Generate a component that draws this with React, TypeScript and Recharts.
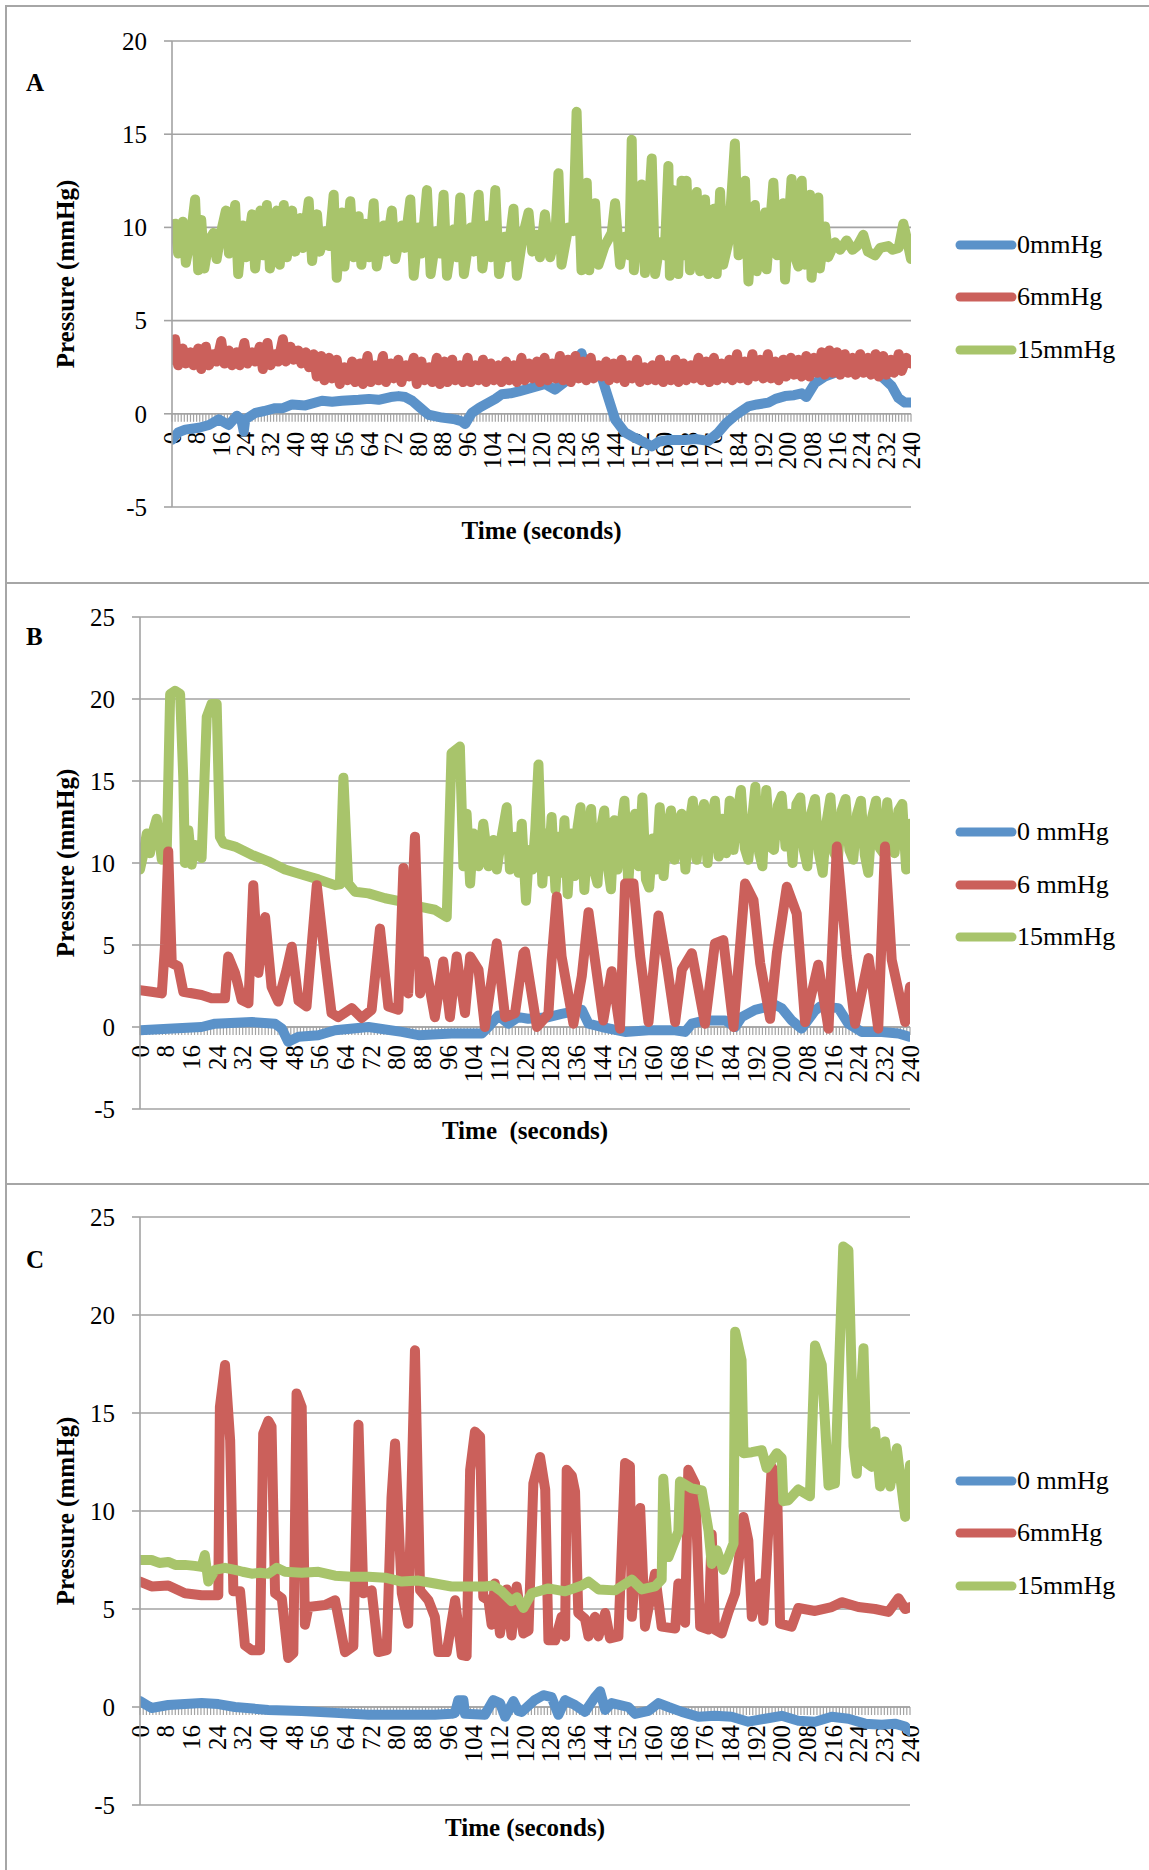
import React from "react";
import { LineChart, Line, XAxis, YAxis, CartesianGrid, ReferenceLine } from "recharts";

const BLUE = "#5b92c9";
const RED = "#cb605b";
const GREEN = "#a8c46b";
const GRID = "#a3a3a3";
const FONT = "'Liberation Serif', 'Times New Roman', serif";

// x axis labels (seconds)
const timeLabels = [0, 8, 16, 24, 32, 40, 48, 56, 64, 72, 80, 88, 96, 104, 112, 120, 128, 136, 144, 152, 160, 168, 176, 184, 192, 200, 208, 216, 224, 232, 240];
const ticksA = [-5, 0, 5, 10, 15, 20];
const ticksBC = [-5, 0, 5, 10, 15, 20, 25];

// ---- Panel A : [time, pressure]
const a0mm: [number, number][] = [
  [0, -1.4], [2, -1.0], [4.3, -0.85], [8.7, -0.75], [12, -0.6], [15.2, -0.3], [18.4, -0.6], [21.1, -0.1], [22.5, -0.3], [23.3, -0.95], [23.8, -0.3],
  [27.1, 0.05], [30, 0.15], [33.5, 0.3], [36, 0.3], [39, 0.5], [43.3, 0.45], [48.7, 0.7], [52, 0.65], [55.2, 0.7], [60.6, 0.75], [64, 0.8],
  [67.1, 0.75], [71, 0.9], [73.6, 0.95], [75.8, 0.9], [78, 0.7], [80.1, 0.4], [83.3, -0.05], [87.7, -0.2], [92, -0.3], [94, -0.4], [95.2, -0.55],
  [97.4, 0.05], [100, 0.35], [102.8, 0.6], [105, 0.8], [107.1, 1.05], [110, 1.1], [112.6, 1.2], [116.9, 1.4], [121.2, 1.6], [122.2, 1.5],
  [124.4, 1.3], [128.7, 1.85], [132, 2.0], [133, 3.25], [134.1, 2.55], [137, 2.3], [139.5, 2.0], [141.2, 1.1], [143.9, -0.3], [147.1, -1.0],
  [150.4, -1.3], [153, -1.5], [155.8, -1.75], [158, -1.5], [161.2, -1.4], [166.6, -1.4], [170, -1.35], [174.2, -1.45], [177.4, -1.0], [180, -0.5],
  [182.8, -0.1], [187.2, 0.4], [190, 0.5], [193.7, 0.6], [196, 0.8], [199.1, 0.95], [202, 1.0], [204.5, 1.1], [206, 0.9], [208.8, 1.65],
  [212, 2.0], [215.3, 2.2], [220, 2.5], [226.1, 2.8], [230.5, 2.0], [233.7, 1.5], [235.9, 0.85], [238, 0.6], [240, 0.6],
];
const a6mm: [number, number][] = [
  [0, 2.9], [1, 4.0], [2, 2.6], [3.5, 3.5], [4.5, 2.7], [6, 3.3], [7, 2.6], [8.5, 3.5], [9.5, 2.4], [11, 3.6], [12, 2.6], [13.5, 3.2], [14.5, 2.8],
  [16, 3.9], [17, 2.7], [18.5, 3.4], [19.5, 2.6], [21, 3.3], [22, 2.6], [23.5, 3.8], [24.5, 2.7], [26, 3.3], [27, 2.8], [28.5, 3.6], [29.5, 2.4],
  [31, 3.8], [32, 2.6], [33.5, 3.2], [34.5, 2.8], [36, 4.0], [37, 2.8], [38.5, 3.6], [39.5, 2.9], [41, 3.4], [42, 2.7], [43.5, 3.3], [44.5, 2.5],
  [46, 3.2], [47, 2.0], [48.5, 3.1], [49.5, 1.8], [51, 3.0], [52, 1.9], [53.5, 2.9], [54.5, 1.6], [56, 2.5], [57, 1.8], [58.5, 2.8], [59.5, 1.7],
  [61, 2.7], [62, 1.6], [63.5, 3.1], [64.5, 1.7], [66, 2.6], [67, 1.8], [68.5, 3.1], [69.5, 1.7], [71, 2.7], [72, 1.9], [73.5, 2.9], [74.5, 1.7],
  [76, 2.6], [77, 2.0], [78.5, 3.0], [79.5, 1.6], [81, 2.8], [82, 1.8], [83.5, 2.5], [84.5, 1.7], [86, 3.0], [87, 1.6], [88.5, 2.8], [89.5, 1.7],
  [91, 2.9], [92, 1.8], [93.5, 2.6], [94.5, 1.7], [96, 3.0], [97, 1.7], [98.5, 2.6], [99.5, 1.8], [101, 2.9], [102, 1.7], [103.5, 2.7], [104.5, 1.8],
  [106, 2.6], [107, 1.7], [108.5, 2.8], [109.5, 1.8], [111, 2.6], [112, 1.7], [113.5, 3.0], [114.5, 1.8], [116, 2.7], [117, 1.9], [118.5, 2.8],
  [119.5, 1.7], [121, 3.0], [122, 1.8], [123.5, 2.7], [124.5, 1.9], [126, 3.1], [127, 1.8], [128.5, 2.9], [129.5, 1.7], [131, 3.1], [132, 1.9],
  [133.5, 2.8], [134.5, 1.8], [136, 3.0], [137, 1.9], [138.5, 2.6], [139.5, 2.0], [141, 2.8], [142, 1.8], [143.5, 2.7], [144.5, 1.9], [146, 2.9],
  [147, 1.7], [148.5, 2.6], [149.5, 1.9], [151, 2.9], [152, 1.7], [153.5, 2.5], [154.5, 1.8], [156, 2.6], [157, 1.8], [158.5, 2.9], [159.5, 1.7],
  [161, 2.6], [162, 1.8], [163.5, 2.9], [164.5, 1.7], [166, 2.7], [167, 1.8], [168.5, 2.6], [169.5, 1.9], [171, 3.0], [172, 1.8], [173.5, 2.8],
  [174.5, 1.7], [176, 3.0], [177, 1.8], [178.5, 2.7], [179.5, 1.9], [181, 2.9], [182, 1.8], [183.5, 3.2], [184.5, 1.9], [186, 2.8], [187, 1.8],
  [188.5, 3.2], [189.5, 2.0], [191, 2.9], [192, 1.9], [193.5, 3.2], [194.5, 1.9], [196, 2.8], [197, 1.8], [198.5, 2.9], [199.5, 2.0], [201, 3.0],
  [202, 2.1], [203.5, 2.9], [204.5, 2.0], [206, 3.1], [207, 2.0], [208.5, 3.0], [209.5, 2.2], [211, 3.3], [212, 2.1], [213.5, 3.4], [214.5, 2.2],
  [216, 3.3], [217, 2.1], [218.5, 3.2], [219.5, 2.2], [221, 3.0], [222, 2.1], [223.5, 3.2], [224.5, 2.2], [226, 3.0], [227, 2.1], [228.5, 3.2],
  [229.5, 2.0], [231, 3.1], [232, 2.1], [233.5, 2.9], [234.5, 2.2], [236, 3.2], [237, 2.3], [238.5, 3.0], [240, 2.7],
];
const a15mm: [number, number][] = [
  [0, 9.6], [1, 10.2], [2, 8.6], [3.5, 10.3], [4.5, 8.1], [6, 9.4], [7.5, 11.5], [8.5, 7.7], [9.5, 10.4], [10.5, 7.8], [12, 9.3], [13.5, 9.7],
  [14.5, 8.3], [16, 9.8], [17.5, 10.9], [18.5, 8.6], [20.5, 11.2], [21.5, 7.5], [23, 10.1], [24, 8.4], [26, 10.7], [27, 7.8], [28.7, 10.9],
  [29.5, 8.5], [30.8, 11.2], [31.8, 7.8], [34, 10.9], [35, 8.0], [36.3, 11.2], [37.3, 8.4], [39, 10.9], [40, 8.7], [41.7, 10.5], [42.5, 8.9],
  [44.4, 11.4], [45.5, 8.2], [47.1, 10.7], [48, 8.7], [50, 9.8], [51, 9.0], [52.5, 11.75], [53.5, 7.3], [55.2, 10.8], [56, 7.9], [57.9, 11.4],
  [59, 8.4], [60.6, 10.6], [61.5, 8.0], [62.8, 10.2], [64, 8.4], [65.5, 11.3], [66.5, 7.9], [68.7, 10.1], [69.5, 8.7], [71.4, 10.9], [72.5, 8.3],
  [74.7, 10.1], [75.5, 8.9], [77.4, 11.5], [78.5, 7.4], [80, 10.0], [81, 8.6], [82.8, 12.0], [84, 7.5], [86, 9.8], [87, 8.6], [88.2, 11.75],
  [89.3, 7.4], [91.5, 9.9], [92.5, 8.4], [93.6, 11.6], [94.8, 7.5], [97, 10.0], [98, 8.7], [99.6, 11.75], [100.8, 7.8], [102.5, 10.1],
  [103.5, 8.4], [105, 12.0], [106.2, 7.5], [108, 9.5], [109, 8.4], [110.9, 11.0], [112, 7.4], [114, 9.6], [115.8, 10.8], [117, 8.7],
  [118.5, 9.6], [119.5, 8.4], [121.1, 10.7], [122.8, 8.4], [124.5, 9.5], [125.5, 12.9], [126.5, 8.0], [128.7, 10.0], [130.3, 9.8], [131.4, 16.2],
  [132.2, 11.5], [133, 7.7], [134.7, 12.4], [135.5, 7.7], [137.4, 11.3], [138.5, 8.0], [140.5, 9.0], [142.8, 9.7], [143.9, 11.3], [145.5, 8.0],
  [147, 9.5], [148.5, 8.5], [149.3, 14.7], [150, 7.7], [151.5, 11.0], [152.5, 12.3], [153.6, 7.55], [155.8, 13.7], [156.9, 7.5], [158.5, 9.2],
  [160, 8.5], [161.2, 13.3], [161.7, 7.4], [163, 12.0], [164.4, 7.5], [165.5, 12.5], [166.5, 8.5], [167.1, 12.5], [168.2, 7.7], [170.4, 11.9],
  [171.5, 7.65], [173.1, 11.5], [174.2, 7.5], [176, 11.0], [176.9, 7.5], [178, 11.9], [179, 8.0], [180.7, 9.2], [182.8, 14.5], [184, 8.5],
  [186.1, 12.5], [187.2, 7.1], [188.5, 10.5], [189.3, 11.2], [189.9, 7.65], [192.6, 10.8], [193.1, 7.75], [195.3, 12.4], [196.5, 8.5],
  [198.5, 11.3], [199.1, 7.2], [201.2, 12.6], [202.2, 8.5], [203.4, 7.9], [204.5, 12.5], [205.5, 8.0], [207.2, 11.75], [207.7, 7.3], [209.9, 11.6],
  [210.4, 7.8], [212.1, 10.05], [213.1, 8.4], [215.3, 9.2], [217, 8.8], [219.1, 9.3], [221, 8.8], [222.5, 9.0], [224.5, 9.6], [226, 8.7],
  [228.3, 8.5], [230, 8.9], [232.6, 9.0], [234, 8.8], [236, 8.9], [237.5, 10.2], [238.5, 9.5], [240, 8.3],
];

// ---- Panel B
const b0mm: [number, number][] = [
  [0, -0.2], [8.8, -0.1], [19.2, 0.0], [23.4, 0.2], [34.8, 0.3], [42.1, 0.2], [44.2, -0.1], [46.2, -0.9], [49.4, -0.6], [55.6, -0.5], [60.8, -0.2],
  [71.2, 0.0], [81.6, -0.3], [86.8, -0.5], [97.1, -0.4], [106.5, -0.4], [108.6, 0.0], [111.7, 0.7], [114.8, 0.2], [117.9, 0.6], [121, 0.5],
  [127.3, 0.6], [131.4, 0.8], [137.7, 1.05], [139.8, 0.2], [143.9, 0.0], [151.2, -0.3], [158.5, -0.2], [166.8, -0.2], [169.9, -0.3], [172, 0.2],
  [176.1, 0.4], [182.4, 0.4], [185.5, 0.0], [187.5, 0.6], [191.7, 1.05], [198, 1.35], [200, 1.15], [203.1, 0.4], [206.2, -0.1], [210.4, 1.0],
  [212, 1.25], [217.7, 1.15], [220.8, 0.2], [225, -0.3], [231.2, -0.3], [236.4, -0.4], [240, -0.6],
];
const b6mm: [number, number][] = [
  [0, 2.25], [3.6, 2.15], [6.8, 2.05], [7.8, 5.0], [8.8, 10.7], [9.9, 3.9], [11.9, 3.7], [13.5, 2.15], [19.2, 1.95], [22.3, 1.75], [26.5, 1.75],
  [27.5, 4.3], [29.6, 3.3], [31.7, 1.65], [33.8, 1.45], [35.3, 8.65], [36.9, 3.3], [39, 6.7], [41, 2.45], [43.1, 1.55], [45.7, 3.5], [47.3, 4.9],
  [49.4, 1.6], [51.9, 1.25], [55.1, 8.65], [57.7, 4.1], [59.7, 0.85], [61.8, 0.6], [66, 1.15], [69.1, 0.55], [72.2, 1.05], [74.8, 6.0],
  [77.4, 1.25], [80.5, 1.05], [82.1, 9.7], [83.6, 2.05], [85.7, 11.6], [87.3, 2.05], [88.8, 4.0], [91.9, 0.6], [94.5, 4.0], [96.6, 0.6],
  [98.7, 4.3], [101.3, 0.85], [102.9, 4.3], [105.5, 3.5], [107.5, 0.0], [111.2, 5.1], [113.8, 0.6], [116.9, 0.85], [119.5, 4.5], [120, 4.6],
  [123.7, 0.0], [127.3, 0.8], [128.3, 4.1], [129.9, 7.95], [131.4, 4.3], [135.1, 0.2], [137.7, 3.1], [139.8, 7.0], [141.8, 4.1], [144.4, 0.4],
  [147, 3.4], [149.6, -0.1], [151.2, 8.75], [153.8, 8.75], [155.9, 4.3], [158.5, 0.3], [161.6, 6.8], [164.2, 3.8], [166.8, 0.3], [168.9, 3.5],
  [172, 4.5], [176.1, 0.2], [179.2, 5.1], [181.8, 5.3], [185, 0.0], [188.6, 8.75], [191.2, 7.75], [193.3, 3.9], [196.4, 0.5], [198.5, 4.5],
  [201.6, 8.55], [204.7, 6.9], [207.3, 0.3], [211.4, 3.8], [214.6, -0.1], [217.2, 11.0], [220.3, 4.3], [222.9, 0.2], [227.1, 4.2], [230.1, -0.1],
  [232.2, 11.0], [234.3, 4.1], [238.5, 0.3], [240, 2.45],
];
const b15mm: [number, number][] = [
  [0, 9.6], [1, 10.5], [2.1, 11.8], [3.1, 10.6], [4.2, 12.0], [5.2, 12.7], [6.8, 10.2], [8.3, 10.4], [9.4, 20.3], [10.9, 20.5], [12.5, 20.3],
  [13.5, 15.1], [14, 10.0], [15.1, 12.0], [16.1, 9.9], [17.1, 11.1], [19.2, 10.3], [20.8, 18.9], [22.3, 19.7], [23.9, 19.7], [24.9, 11.6],
  [26, 11.2], [29.6, 11.0], [34.8, 10.5], [40, 10.1], [45.2, 9.6], [50.4, 9.3], [55.6, 9.0], [60.8, 8.65], [62.3, 8.7], [63.4, 15.2], [64.9, 8.75],
  [67, 8.25], [71.2, 8.15], [76.4, 7.85], [81.6, 7.65], [86.8, 7.35], [91.9, 7.15], [95.6, 6.7], [97.1, 16.7], [99.7, 17.1], [100.8, 9.8],
  [101.8, 13.0], [102.9, 8.75], [103.9, 11.8], [105.5, 9.8], [107, 12.4], [108.6, 9.8], [110.1, 11.4], [111.2, 9.6], [112.7, 11.6], [114.3, 13.4],
  [115.3, 9.6], [116.9, 11.6], [118, 9.4], [119, 12.4], [120.3, 7.7], [121.3, 10.8], [122.3, 9.6], [123.2, 12.0], [124.2, 16.0], [125.4, 8.75],
  [126.4, 11.8], [127.3, 9.5], [128.3, 12.8], [129.5, 8.35], [130.5, 11.6], [131.4, 9.4], [132.3, 12.6], [133.3, 8.1], [134.4, 11.8], [135.4, 9.2],
  [136.4, 12.2], [137.3, 13.4], [138.5, 8.35], [139.5, 11.5], [140.6, 13.3], [141.6, 9.5], [142.6, 8.75], [143.6, 12.0], [144.7, 13.2],
  [145.8, 9.8], [146.8, 8.4], [147.8, 12.6], [148.8, 9.6], [149.9, 12.0], [151, 13.8], [152.2, 8.75], [153.3, 12.2], [154.3, 13.0], [155.4, 9.8],
  [156.6, 14.0], [157.7, 9.0], [158.7, 8.5], [159.8, 11.5], [160.9, 9.6], [162, 13.4], [163.2, 9.2], [164.3, 12.0], [165.5, 13.2], [166.6, 10.2],
  [167.7, 12.4], [168.8, 13.0], [170, 9.6], [171.1, 12.2], [172.3, 13.8], [173.5, 10.2], [174.6, 12.8], [175.8, 13.6], [176.9, 10.0], [178, 12.5],
  [179.2, 13.8], [180.4, 10.4], [181.5, 12.7], [182.7, 10.6], [183.8, 13.8], [185, 10.8], [186.1, 12.9], [187.3, 14.45], [188.5, 10.9],
  [189.6, 10.2], [190.7, 12.5], [191.8, 14.65], [193, 10.6], [194, 9.8], [195.2, 14.45], [196.4, 11.0], [197.6, 10.8], [198.8, 13.5], [200, 14.1],
  [201.2, 11.0], [202.3, 13.0], [203.4, 10.0], [204.6, 13.6], [205.8, 14.0], [206.9, 10.8], [208, 9.8], [209.2, 13.0], [210.4, 13.9],
  [211.6, 10.6], [212.8, 9.4], [214, 12.5], [215.2, 14.0], [216.4, 10.6], [217.5, 10.2], [218.7, 13.2], [219.9, 13.9], [221.1, 10.8],
  [222.3, 10.2], [223.5, 13.0], [224.7, 13.8], [225.9, 10.5], [227, 9.4], [228.2, 12.8], [229.4, 13.8], [230.6, 10.9], [231.7, 10.6],
  [232.9, 13.7], [234, 11.2], [235.2, 10.6], [236.4, 13.2], [237.6, 13.6], [238.8, 9.6], [240, 12.4],
];

// ---- Panel C
const c0mm: [number, number][] = [
  [0, 0.3], [3.6, -0.05], [8.8, 0.1], [19.2, 0.2], [24.4, 0.15], [29.6, 0.0], [40, -0.15], [50.4, -0.2], [60.8, -0.3], [71.2, -0.4], [81.6, -0.4],
  [91.9, -0.4], [97.1, -0.35], [98.2, -0.3], [99.2, 0.35], [100.8, 0.35], [101.3, -0.35], [107.5, -0.4], [110.1, 0.35], [112.2, 0.2],
  [113.8, -0.5], [116.4, 0.3], [117.9, -0.2], [119, -0.25], [123, 0.35], [125.7, 0.6], [128.3, 0.5], [130.4, -0.4], [132.5, 0.35], [135.6, 0.1],
  [138.7, -0.25], [141.8, 0.5], [143.4, 0.8], [145, -0.15], [147, 0.2], [152.2, 0.0], [154.3, -0.35], [158.5, -0.2], [161.6, 0.2], [164.7, 0.0],
  [168.9, -0.25], [174, -0.5], [179.2, -0.45], [184.4, -0.5], [189.6, -0.75], [194.8, -0.6], [200, -0.45], [205.2, -0.7], [210.4, -0.75],
  [215.6, -0.5], [220.8, -0.6], [226, -0.85], [231.2, -0.9], [235.3, -0.85], [238.5, -1.0], [240, -1.25],
];
const c6mm: [number, number][] = [
  [0, 6.4], [3.6, 6.15], [8.8, 6.2], [14, 5.8], [19.2, 5.7], [24.4, 5.7], [24.9, 15.3], [26.5, 17.45], [28.1, 13.6], [29.1, 5.9], [31.2, 5.9],
  [32.7, 3.15], [34.8, 2.9], [37.4, 2.9], [38.4, 13.95], [40, 14.6], [41, 14.3], [42.1, 5.8], [44.2, 5.55], [46.2, 2.5], [47.8, 2.75], [48.8, 16.0],
  [50.4, 15.3], [51.4, 4.2], [52.5, 5.1], [57.7, 5.2], [60.8, 5.45], [63.9, 2.8], [66.5, 3.1], [68.1, 14.4], [69.6, 5.8], [72.2, 5.95],
  [74.3, 2.8], [76.9, 2.9], [78.4, 10.7], [79.5, 13.45], [81.6, 5.8], [83.6, 4.25], [85.7, 18.2], [87.3, 5.95], [89.9, 5.45], [91.9, 4.6],
  [93, 2.8], [95.6, 2.8], [98.2, 5.45], [100.3, 2.65], [101.8, 2.6], [102.9, 12.1], [104.4, 14.05], [106, 13.8], [107, 5.6], [108.6, 5.45],
  [109.6, 4.2], [110.6, 6.3], [112.2, 3.75], [114.3, 6.0], [115.8, 3.65], [117.4, 6.15], [119.5, 3.75], [121.1, 3.9], [122.6, 11.4],
  [124.7, 12.75], [126.3, 11.1], [127.3, 3.4], [129.4, 3.4], [131.4, 4.6], [132.5, 3.6], [133, 12.1], [134.6, 11.8], [135.6, 11.0], [136.6, 4.8],
  [138.7, 4.5], [139.8, 3.6], [141.8, 4.6], [142.9, 3.6], [145, 4.8], [146.5, 3.5], [149.1, 3.6], [151.2, 12.45], [152.7, 12.3], [153.3, 4.6],
  [155.9, 10.15], [157.4, 4.1], [160.5, 6.8], [162.6, 4.1], [166.8, 4.0], [167.8, 6.3], [169.9, 4.3], [170.9, 12.1], [173, 11.4], [174.6, 4.1],
  [177.2, 3.95], [178.2, 8.8], [179.2, 3.95], [181.3, 3.75], [183.4, 4.85], [185.5, 5.8], [188.1, 9.7], [189.6, 8.5], [190.7, 4.6], [193.3, 6.3],
  [194.3, 4.4], [196.9, 12.25], [198.5, 11.7], [199.5, 4.25], [203.1, 4.1], [205.2, 5.05], [210.4, 4.9], [215.6, 5.1], [218.7, 5.35],
  [223.9, 5.1], [229.1, 5.0], [233.3, 4.85], [236.4, 5.55], [238.5, 5.0], [240, 5.1],
];
const c15mm: [number, number][] = [
  [0, 7.5], [3.6, 7.5], [6, 7.35], [8.8, 7.4], [11, 7.25], [14, 7.25], [17, 7.2], [19.2, 7.15], [20.2, 7.75], [21.3, 6.4], [23.4, 7.0],
  [26.5, 7.1], [29.6, 7.0], [32, 6.9], [34.8, 6.8], [37.4, 6.85], [40, 6.8], [42.6, 7.1], [45.2, 6.9], [50.4, 6.85], [55.6, 6.9], [60.8, 6.7],
  [66, 6.65], [71.2, 6.65], [76.4, 6.6], [81.6, 6.4], [86.8, 6.45], [91.9, 6.3], [97.1, 6.15], [102.3, 6.15], [107.5, 6.15], [110.1, 6.2],
  [112.7, 5.9], [115.8, 5.4], [117.5, 5.6], [119.5, 5.05], [122.1, 5.8], [127.3, 6.05], [132.5, 5.9], [137.7, 6.2], [139.8, 6.4], [142.9, 6.0],
  [148.1, 5.95], [153.3, 6.5], [156.4, 6.0], [160.5, 6.15], [162.6, 6.5], [163.1, 11.65], [164.7, 7.65], [167.8, 8.95], [168.3, 11.5],
  [172, 11.15], [175.1, 11.05], [177.2, 9.0], [178.2, 7.3], [179.8, 8.0], [181.8, 7.0], [185, 8.35], [185.5, 19.15], [187.5, 17.7],
  [188.1, 12.95], [190.7, 13.0], [193.8, 13.1], [195.3, 12.2], [198.5, 12.95], [200, 12.7], [200.5, 10.5], [202.1, 10.55], [205.2, 11.1],
  [208.8, 10.75], [210.4, 18.45], [212.5, 17.45], [214.6, 11.3], [216.6, 11.4], [219.2, 23.5], [220.8, 23.3], [222.4, 13.3], [223.4, 11.9],
  [225.5, 18.3], [226.5, 12.45], [228.1, 12.25], [229.1, 14.05], [230.7, 11.25], [232.2, 13.55], [233.8, 11.25], [235.9, 13.2], [238.5, 9.7],
  [240, 12.35],
];

const toPts = (arr: [number, number][]) => arr.map(([t, v]) => ({ t, v }));
const hatch = Array.from({ length: 241 }, (_, i) => i);

const ZeroAxis = (props: any) => {
  const { x1, x2, y1 } = props;
  const sx = (t: number) => x1 + ((x2 - x1) * t) / 240;
  return (
    <g>
      {hatch.map((t) => (
        <line key={"h" + t} x1={sx(t)} x2={sx(t)} y1={y1} y2={y1 + 8} stroke={GRID} strokeWidth={1.2} />
      ))}
      <line x1={x1} x2={x2} y1={y1} y2={y1} stroke={GRID} strokeWidth={1.6} />
      {timeLabels.map((t) => (
        <text
          key={"l" + t}
          transform={`translate(${sx(t)},${y1 + 18}) rotate(-90)`}
          textAnchor="end"
          dominantBaseline="central"
          fontSize={25}
          fontFamily={FONT}
          fill="#000"
        >
          {t}
        </text>
      ))}
    </g>
  );
};

type PanelCfg = {
  letter: string;
  top: number;
  height: number;
  plotTop: number;
  plotBottom: number;
  plotLeft: number;
  plotRight: number;
  domain: [number, number];
  ticks: number[];
  title: string;
  titleDy: number;
  letterY: number;
  legendY: number[];
  names: string[];
  series: [number, number][][];
  order: number[];
};

const COLORS = [BLUE, RED, GREEN];
const LINE_W = 10;

const panels: PanelCfg[] = [
  {
    letter: "A", top: 0, height: 583, plotTop: 41, plotBottom: 507, plotLeft: 172, plotRight: 911,
    domain: [-5, 20], ticks: ticksA, title: "Time (seconds)", titleDy: 23, letterY: 83,
    legendY: [245, 297, 350], names: ["0mmHg", "6mmHg", "15mmHg"], series: [a0mm, a6mm, a15mm], order: [0, 1, 2],
  },
  {
    letter: "B", top: 583, height: 600, plotTop: 34, plotBottom: 526, plotLeft: 140, plotRight: 910,
    domain: [-5, 25], ticks: ticksBC, title: "Time  (seconds)", titleDy: 21, letterY: 637,
    legendY: [832, 885, 937], names: ["0 mmHg", "6 mmHg", "15mmHg"], series: [b0mm, b6mm, b15mm], order: [0, 2, 1],
  },
  {
    letter: "C", top: 1184, height: 686, plotTop: 33, plotBottom: 621, plotLeft: 140, plotRight: 910,
    domain: [-5, 25], ticks: ticksBC, title: "Time (seconds)", titleDy: 22, letterY: 1260,
    legendY: [1481, 1533, 1586], names: ["0 mmHg", "6mmHg", "15mmHg"], series: [c0mm, c6mm, c15mm], order: [0, 1, 2],
  },
];

function Panel({ p }: { p: PanelCfg }) {
  const xAxisH = 40;
  const margin = {
    top: p.plotTop,
    bottom: p.height - p.plotBottom - xAxisH,
    left: 32,
    right: 1149 - p.plotRight,
  };
  const yWidth = p.plotLeft - 32;
  return (
    <div style={{ position: "absolute", left: 0, top: p.top, width: 1149, height: p.height }}>
      <LineChart width={1149} height={p.height} margin={margin}>
        <CartesianGrid vertical={false} stroke={GRID} strokeWidth={1.6} />
        <XAxis
          dataKey="t"
          type="number"
          domain={[0, 240]}
          allowDataOverflow
          height={xAxisH}
          axisLine={false}
          tickLine={false}
          tick={false}
          label={{
            content: (lp: any) => {
              const vb = lp.viewBox || { x: p.plotLeft, y: p.plotBottom, width: p.plotRight - p.plotLeft };
              return (
                <text
                  x={vb.x + vb.width / 2}
                  y={vb.y + p.titleDy}
                  textAnchor="middle"
                  dominantBaseline="central"
                  fontSize={25}
                  fontWeight="bold"
                  fontFamily={FONT}
                  fill="#000"
                  style={{ whiteSpace: "pre" }}
                >
                  {p.title}
                </text>
              );
            },
          }}
        />
        <YAxis
          type="number"
          domain={p.domain}
          ticks={p.ticks}
          interval={0}
          width={yWidth}
          stroke={GRID}
          axisLine={{ stroke: GRID, strokeWidth: 1.6 }}
          tickLine={{ stroke: GRID, strokeWidth: 1.6 }}
          tickSize={8}
          tickMargin={17}
          tick={{ fontSize: 25, fontFamily: FONT, fill: "#000" }}
          label={{
            content: (lp: any) => {
              const vb = lp.viewBox || { x: 32, y: p.plotTop, height: p.plotBottom - p.plotTop };
              const cx = vb.x + 33;
              const cy = vb.y + vb.height / 2;
              return (
                <text
                  transform={`translate(${cx},${cy}) rotate(-90)`}
                  textAnchor="middle"
                  dominantBaseline="central"
                  fontSize={25}
                  fontWeight="bold"
                  fontFamily={FONT}
                  fill="#000"
                >
                  Pressure (mmHg)
                </text>
              );
            },
          }}
        />
        <ReferenceLine y={0} ifOverflow="visible" shape={(sp: any) => <ZeroAxis {...sp} />} />
        {p.order.map((i) => (
          <Line
            key={p.letter + i}
            data={toPts(p.series[i])}
            dataKey="v"
            name={p.names[i]}
            type="linear"
            stroke={COLORS[i]}
            strokeWidth={LINE_W}
            strokeLinejoin="round"
            strokeLinecap="round"
            dot={false}
            activeDot={false}
            isAnimationActive={false}
          />
        ))}
      </LineChart>
    </div>
  );
}

function LegendBox({ p }: { p: PanelCfg }) {
  return (
    <>
      {p.names.map((n, i) => (
        <div
          key={n + i}
          style={{
            position: "absolute",
            left: 954,
            top: p.legendY[i] - 16,
            height: 32,
            display: "flex",
            alignItems: "center",
            fontFamily: FONT,
            fontSize: 26,
            color: "#000",
            whiteSpace: "pre",
          }}
        >
          <svg width={63} height={14} style={{ display: "block" }}>
            <line x1={6} x2={58} y1={7} y2={7} stroke={COLORS[i]} strokeWidth={9} strokeLinecap="round" />
          </svg>
          <span style={{ lineHeight: "32px" }}>{n}</span>
        </div>
      ))}
    </>
  );
}

const rules = [
  { left: 5, top: 5, width: 1144, height: 2 },
  { left: 5, top: 582, width: 1144, height: 2 },
  { left: 5, top: 1183, width: 1144, height: 2 },
  { left: 5, top: 5, width: 2, height: 1865 },
];

export default function App() {
  return (
    <div style={{ position: "relative", width: 1149, height: 1870, overflow: "hidden", background: "#fff" }}>
      <style>{"body{margin:0;}"}</style>
      {rules.map((r, i) => (
        <div key={i} style={{ position: "absolute", ...r, background: "#a6a6a6" }} />
      ))}
      {panels.map((p) => (
        <React.Fragment key={p.letter}>
          <Panel p={p} />
          <LegendBox p={p} />
          <div
            style={{
              position: "absolute",
              left: 26,
              top: p.letterY - 15,
              fontFamily: FONT,
              fontWeight: "bold",
              fontSize: 25,
              lineHeight: "30px",
            }}
          >
            {p.letter}
          </div>
        </React.Fragment>
      ))}
    </div>
  );
}
